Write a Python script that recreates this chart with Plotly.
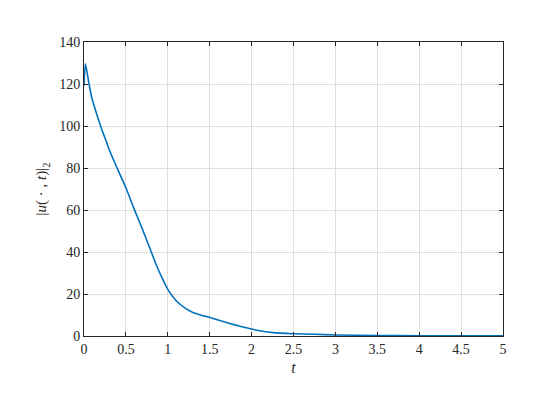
import plotly.graph_objects as go

t_vals = [0, 0.017, 0.06, 0.092, 0.152, 0.211, 0.271, 0.307, 0.406, 0.5, 0.605,
          0.697, 0.784, 0.863, 0.943, 1.0, 1.1, 1.22, 1.3, 1.4, 1.5, 1.6,
          1.7, 1.8, 1.9, 2.0, 2.1, 2.26, 2.5, 2.75, 3.0, 3.5, 4.0, 4.5, 5.0]
u_norm = [119.2, 129.6, 120.0, 113.6, 105.6, 98.5, 92.1, 88.1, 79.0, 70.6, 59.8,
          50.9, 42.0, 33.8, 26.7, 22.2, 16.8, 12.9, 11.2, 9.9, 8.8, 7.6,
          6.4, 5.3, 4.3, 3.3, 2.5, 1.6, 1.1, 0.8, 0.5, 0.25, 0.12, 0.07, 0.04]

x_ticks = [0, 0.5, 1, 1.5, 2, 2.5, 3, 3.5, 4, 4.5, 5]
x_tick_labels = ["0", "0.5", "1", "1.5", "2", "2.5", "3", "3.5", "4", "4.5", "5"]
y_ticks = [0, 20, 40, 60, 80, 100, 120, 140]

font_family = "Liberation Serif, Times New Roman, serif"

fig = go.Figure()
fig.add_trace(go.Scatter(x=t_vals, y=u_norm, mode="lines",
                         line=dict(color="#0072BD", width=1.6, shape="spline", smoothing=0.5),
                         showlegend=False))

axis_common = dict(showline=True, linecolor="#262626", linewidth=1, mirror="ticks",
                   ticks="inside", ticklen=4, tickcolor="#262626",
                   showgrid=True, gridcolor="#dfdfdf", gridwidth=1, zeroline=False,
                   tickfont=dict(family=font_family, size=14, color="#262626"))

fig.update_xaxes(range=[0, 5], tickvals=x_ticks, ticktext=x_tick_labels,
                 title=dict(text="<i>t</i>", font=dict(family=font_family, size=16, color="#262626"),
                            standoff=6),
                 **axis_common)
fig.update_yaxes(range=[0, 140], tickvals=y_ticks,
                 title=dict(text="|<i>u</i>( · , <i>t</i>)|<sub>2</sub>",
                            font=dict(family=font_family, size=15, color="#262626"), standoff=8),
                 **axis_common)

fig.update_layout(width=560, height=420, margin=dict(l=76, r=65, t=34, b=92),
                  paper_bgcolor="white", plot_bgcolor="white",
                  font=dict(family=font_family, color="#262626"))

fig.write_html("out.html")
